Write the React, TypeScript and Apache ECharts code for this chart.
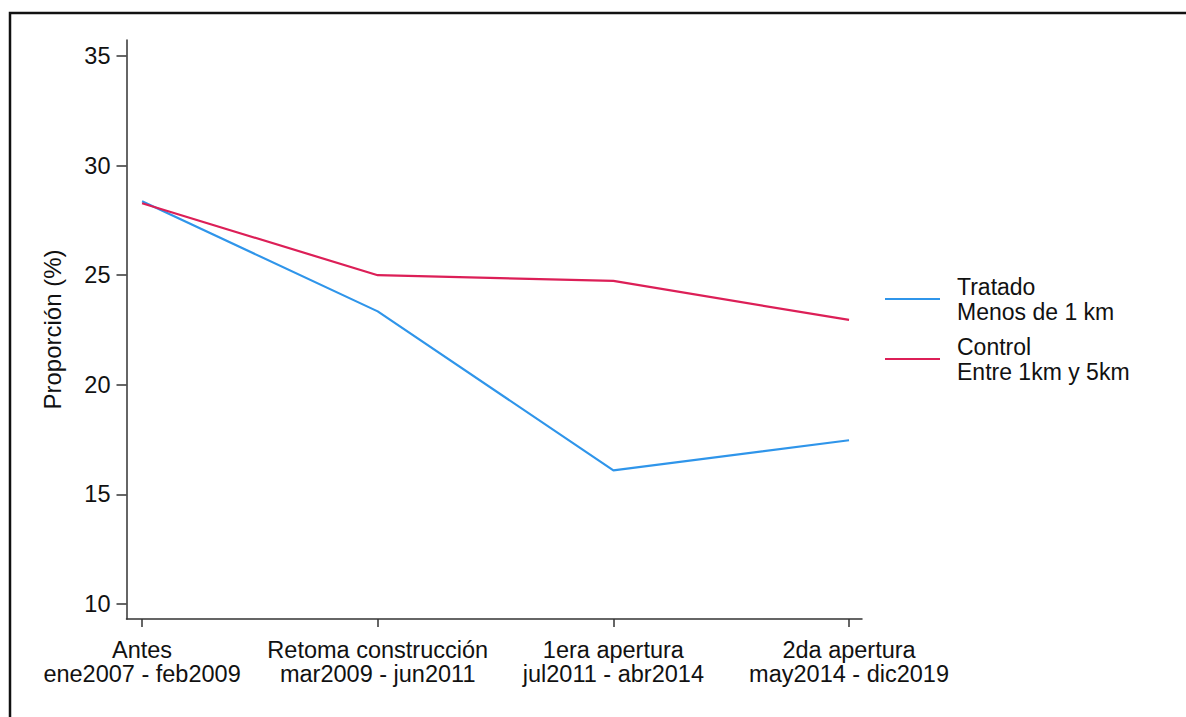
import React, { useEffect, useRef } from "react";
import * as echarts from "echarts";

const categories = ["Antes\nene2007 - feb2009", "Retoma construcción\nmar2009 - jun2011", "1era apertura\njul2011 - abr2014", "2da apertura\nmay2014 - dic2019"];
const tratado = [28.37, 23.35, 16.1, 17.47];
const control = [28.28, 25.0, 24.74, 22.96];
const yTicks = [10, 15, 20, 25, 30, 35];
const seriesNames = ["Tratado\nMenos de 1 km", "Control\nEntre 1km y 5km"];
const FONT = "'Liberation Sans', Arial, Helvetica, sans-serif";
const TEXT = "#111111";

export default function App() {
  const ref = useRef<HTMLDivElement>(null);
  useEffect(() => {
    if (!ref.current) return;
    const chart = echarts.init(ref.current, null, { renderer: "svg" });
    const xIdx = categories.map((_, i) => i);
    chart.setOption({
      animation: false,
      backgroundColor: "#ffffff",
      textStyle: { fontFamily: FONT, color: TEXT },
      grid: { left: 126.5, right: 324, top: 40, bottom: 98, containLabel: false },
      xAxis: {
        type: "value",
        min: -0.066,
        max: 3.055,
        splitLine: { show: false },
        axisLine: { show: true, onZero: false, lineStyle: { color: "#333", width: 1.5 } },
        axisTick: { show: true, length: 8, lineStyle: { color: "#333", width: 1.5 }, customValues: xIdx },
        axisLabel: {
          customValues: xIdx,
          formatter: (v: number) => categories[Math.round(v)],
          fontSize: 23.5,
          lineHeight: 24,
          color: TEXT,
          fontFamily: FONT,
          margin: 19,
          align: "center",
        },
      },
      yAxis: {
        type: "value",
        min: 9.316,
        max: 35.73,
        name: "Proporción (%)",
        nameLocation: "middle",
        nameGap: 62,
        nameTextStyle: { fontSize: 24, color: TEXT, fontFamily: FONT },
        splitLine: { show: false },
        axisLine: { show: true, onZero: false, lineStyle: { color: "#333", width: 1.5 } },
        axisTick: { show: true, length: 10, lineStyle: { color: "#333", width: 1.5 }, customValues: yTicks },
        axisLabel: { customValues: yTicks, fontSize: 23.5, color: TEXT, fontFamily: FONT, margin: 16 },
      },
      legend: {
        orient: "vertical",
        left: 885,
        top: 274,
        padding: 0,
        itemWidth: 55,
        itemHeight: 2,
        itemGap: 10,
        icon: "rect",
        textStyle: { fontSize: 23, lineHeight: 25, color: TEXT, fontFamily: FONT, padding: [0, 0, 0, 12] },
        data: seriesNames,
      },
      series: [
        {
          name: seriesNames[0],
          type: "line",
          data: tratado.map((v, i) => [i, v]),
          symbol: "none",
          lineStyle: { color: "#2f95ea", width: 2.2 },
          itemStyle: { color: "#2f95ea" },
        },
        {
          name: seriesNames[1],
          type: "line",
          data: control.map((v, i) => [i, v]),
          symbol: "none",
          lineStyle: { color: "#dc1f57", width: 2.2 },
          itemStyle: { color: "#dc1f57" },
        },
      ],
      graphic: [
        {
          type: "polyline",
          shape: { points: [[10, 730], [10, 13], [1200, 13]] },
          style: { stroke: "#111", lineWidth: 2.5, fill: "none" },
          silent: true,
        },
      ],
    });
    return () => chart.dispose();
  }, []);
  return <div ref={ref} style={{ position: "fixed", left: 0, top: 0, width: 1186, height: 717 }} />;
}
